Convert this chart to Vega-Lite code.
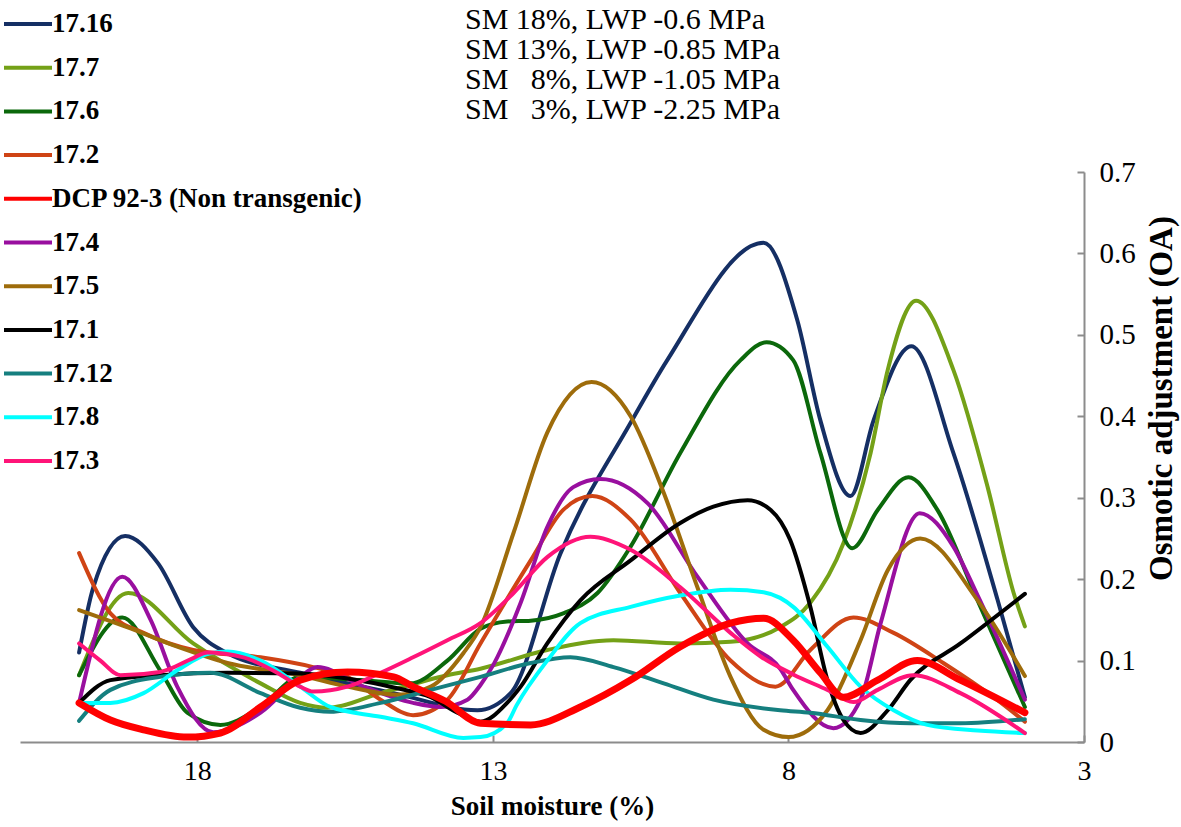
{
  "$schema": "https://vega.github.io/schema/vega-lite/v6.json",
  "width": 1064,
  "height": 570,
  "autosize": {"type": "none"},
  "padding": {"left": 20, "top": 172, "right": 97, "bottom": 85},
  "background": "white",
  "config": {"view": {"stroke": null}, "font": "'Liberation Serif', 'Times New Roman', 'DejaVu Serif', serif"},
  "title": {
    "text": ["SM 18%, LWP -0.6 MPa", "SM 13%, LWP -0.85 MPa", "SM\u00a0\u00a0\u00a08%, LWP -1.05 MPa", "SM\u00a0\u00a0\u00a03%, LWP -2.25 MPa"],
    "anchor": "start", "frame": "group", "align": "left", "dx": 445, "dy": 165,
    "font": "'Liberation Serif', 'Times New Roman', 'DejaVu Serif', serif", "fontSize": 30, "fontWeight": "normal", "lineHeight": 30,
    "color": "black", "offset": 50
  },
  "datasets": {
    "oa": [
      {"g":"17.16","sm":20,"oa":0.110},{"g":"17.16","sm":19.76,"oa":0.19},{"g":"17.16","sm":19.22,"oa":0.253},{"g":"17.16","sm":18.67,"oa":0.22},{"g":"17.16","sm":18.07,"oa":0.141},{"g":"17.16","sm":17.49,"oa":0.109},{"g":"17.16","sm":16.26,"oa":0.085},{"g":"17.16","sm":14.68,"oa":0.06},{"g":"17.16","sm":13.26,"oa":0.039},{"g":"17.16","sm":12.7,"oa":0.06},{"g":"17.16","sm":11.86,"oa":0.231},{"g":"17.16","sm":10.67,"oa":0.392},{"g":"17.16","sm":10.05,"oa":0.469},{"g":"17.16","sm":8.42,"oa":0.613},{"g":"17.16","sm":7.85,"oa":0.518},{"g":"17.16","sm":7.46,"oa":0.395},{"g":"17.16","sm":6.95,"oa":0.302},{"g":"17.16","sm":6.56,"oa":0.395},{"g":"17.16","sm":5.92,"oa":0.486},{"g":"17.16","sm":5.21,"oa":0.355},{"g":"17.16","sm":4.46,"oa":0.174},{"g":"17.16","sm":4,"oa":0.055},

      {"g":"17.7","sm":20,"oa":0.082},{"g":"17.7","sm":19.17,"oa":0.183},{"g":"17.7","sm":18.07,"oa":0.121},{"g":"17.7","sm":16.93,"oa":0.072},{"g":"17.7","sm":16.26,"oa":0.048},{"g":"17.7","sm":15.8,"oa":0.042},{"g":"17.7","sm":14.9,"oa":0.06},{"g":"17.7","sm":13.77,"oa":0.082},{"g":"17.7","sm":13.21,"oa":0.09},{"g":"17.7","sm":12.08,"oa":0.113},{"g":"17.7","sm":10.96,"oa":0.125},{"g":"17.7","sm":9.83,"oa":0.121},{"g":"17.7","sm":8.98,"oa":0.123},{"g":"17.7","sm":8.14,"oa":0.141},{"g":"17.7","sm":7.63,"oa":0.171},{"g":"17.7","sm":7.07,"oa":0.244},{"g":"17.7","sm":6.61,"oa":0.355},{"g":"17.7","sm":6.32,"oa":0.457},{"g":"17.7","sm":5.84,"oa":0.542},{"g":"17.7","sm":5.21,"oa":0.457},{"g":"17.7","sm":4.63,"oa":0.313},{"g":"17.7","sm":4.19,"oa":0.183},{"g":"17.7","sm":4,"oa":0.142},

      {"g":"17.6","sm":20,"oa":0.082},{"g":"17.6","sm":19.27,"oa":0.153},{"g":"17.6","sm":18.63,"oa":0.088},{"g":"17.6","sm":18.17,"oa":0.036},{"g":"17.6","sm":17.61,"oa":0.021},{"g":"17.6","sm":16.93,"oa":0.043},{"g":"17.6","sm":16.26,"oa":0.08},{"g":"17.6","sm":15.24,"oa":0.076},{"g":"17.6","sm":14.4,"oa":0.072},{"g":"17.6","sm":13.77,"oa":0.10},{"g":"17.6","sm":13.21,"oa":0.139},{"g":"17.6","sm":12.76,"oa":0.148},{"g":"17.6","sm":12.36,"oa":0.149},{"g":"17.6","sm":11.81,"oa":0.158},{"g":"17.6","sm":11.23,"oa":0.183},{"g":"17.6","sm":10.67,"oa":0.24},{"g":"17.6","sm":9.83,"oa":0.355},{"g":"17.6","sm":8.81,"oa":0.469},{"g":"17.6","sm":8.37,"oa":0.491},{"g":"17.6","sm":7.92,"oa":0.469},{"g":"17.6","sm":7.46,"oa":0.355},{"g":"17.6","sm":6.92,"oa":0.238},{"g":"17.6","sm":6.49,"oa":0.285},{"g":"17.6","sm":5.97,"oa":0.325},{"g":"17.6","sm":5.48,"oa":0.285},{"g":"17.6","sm":4.8,"oa":0.174},{"g":"17.6","sm":4,"oa":0.043},

      {"g":"17.2","sm":20,"oa":0.232},{"g":"17.2","sm":19.47,"oa":0.158},{"g":"17.2","sm":18.91,"oa":0.134},{"g":"17.2","sm":18.07,"oa":0.113},{"g":"17.2","sm":16.93,"oa":0.104},{"g":"17.2","sm":16.04,"oa":0.092},{"g":"17.2","sm":15.46,"oa":0.08},{"g":"17.2","sm":14.9,"oa":0.052},{"g":"17.2","sm":14.35,"oa":0.033},{"g":"17.2","sm":13.77,"oa":0.052},{"g":"17.2","sm":13.21,"oa":0.121},{"g":"17.2","sm":12.36,"oa":0.223},{"g":"17.2","sm":11.81,"oa":0.285},{"g":"17.2","sm":11.32,"oa":0.302},{"g":"17.2","sm":10.67,"oa":0.273},{"g":"17.2","sm":9.83,"oa":0.183},{"g":"17.2","sm":8.98,"oa":0.10},{"g":"17.2","sm":8.22,"oa":0.068},{"g":"17.2","sm":7.63,"oa":0.113},{"g":"17.2","sm":6.9,"oa":0.153},{"g":"17.2","sm":6.22,"oa":0.134},{"g":"17.2","sm":5.38,"oa":0.097},{"g":"17.2","sm":4.53,"oa":0.055},{"g":"17.2","sm":4,"oa":0.025},

      {"g":"DCP 92-3 (Non transgenic)","sm":20,"oa":0.048},{"g":"DCP 92-3 (Non transgenic)","sm":19.47,"oa":0.027},{"g":"DCP 92-3 (Non transgenic)","sm":18.91,"oa":0.015},{"g":"DCP 92-3 (Non transgenic)","sm":18.17,"oa":0.006},{"g":"DCP 92-3 (Non transgenic)","sm":17.61,"oa":0.011},{"g":"DCP 92-3 (Non transgenic)","sm":16.93,"oa":0.043},{"g":"DCP 92-3 (Non transgenic)","sm":16.26,"oa":0.076},{"g":"DCP 92-3 (Non transgenic)","sm":15.46,"oa":0.086},{"g":"DCP 92-3 (Non transgenic)","sm":14.68,"oa":0.08},{"g":"DCP 92-3 (Non transgenic)","sm":14.35,"oa":0.068},{"g":"DCP 92-3 (Non transgenic)","sm":13.8,"oa":0.05},{"g":"DCP 92-3 (Non transgenic)","sm":13.21,"oa":0.023},{"g":"DCP 92-3 (Non transgenic)","sm":12.36,"oa":0.021},{"g":"DCP 92-3 (Non transgenic)","sm":11.52,"oa":0.043},{"g":"DCP 92-3 (Non transgenic)","sm":10.67,"oa":0.076},{"g":"DCP 92-3 (Non transgenic)","sm":9.83,"oa":0.117},{"g":"DCP 92-3 (Non transgenic)","sm":8.98,"oa":0.146},{"g":"DCP 92-3 (Non transgenic)","sm":8.42,"oa":0.152},{"g":"DCP 92-3 (Non transgenic)","sm":7.92,"oa":0.125},{"g":"DCP 92-3 (Non transgenic)","sm":7.46,"oa":0.085},{"g":"DCP 92-3 (Non transgenic)","sm":7.07,"oa":0.055},{"g":"DCP 92-3 (Non transgenic)","sm":6.49,"oa":0.076},{"g":"DCP 92-3 (Non transgenic)","sm":5.82,"oa":0.10},{"g":"DCP 92-3 (Non transgenic)","sm":5.09,"oa":0.076},{"g":"DCP 92-3 (Non transgenic)","sm":4,"oa":0.036},

      {"g":"17.4","sm":20,"oa":0.048},{"g":"17.4","sm":19.27,"oa":0.203},{"g":"17.4","sm":18.79,"oa":0.15},{"g":"17.4","sm":18.34,"oa":0.068},{"g":"17.4","sm":17.73,"oa":0.012},{"g":"17.4","sm":16.93,"oa":0.036},{"g":"17.4","sm":16.26,"oa":0.08},{"g":"17.4","sm":15.97,"oa":0.092},{"g":"17.4","sm":15.19,"oa":0.068},{"g":"17.4","sm":14.35,"oa":0.048},{"g":"17.4","sm":13.88,"oa":0.043},{"g":"17.4","sm":13.43,"oa":0.052},{"g":"17.4","sm":13.21,"oa":0.07},{"g":"17.4","sm":12.99,"oa":0.095},{"g":"17.4","sm":12.53,"oa":0.171},{"g":"17.4","sm":12.08,"oa":0.264},{"g":"17.4","sm":11.64,"oa":0.313},{"g":"17.4","sm":11.18,"oa":0.323},{"g":"17.4","sm":10.38,"oa":0.293},{"g":"17.4","sm":9.54,"oa":0.203},{"g":"17.4","sm":8.69,"oa":0.121},{"g":"17.4","sm":8.14,"oa":0.09},{"g":"17.4","sm":7.92,"oa":0.064},{"g":"17.4","sm":7.24,"oa":0.017},{"g":"17.4","sm":6.78,"oa":0.052},{"g":"17.4","sm":6.44,"oa":0.146},{"g":"17.4","sm":5.78,"oa":0.281},{"g":"17.4","sm":5.21,"oa":0.24},{"g":"17.4","sm":4.8,"oa":0.18},{"g":"17.4","sm":4,"oa":0.052},

      {"g":"17.5","sm":20,"oa":0.162},{"g":"17.5","sm":19.19,"oa":0.141},{"g":"17.5","sm":18.34,"oa":0.117},{"g":"17.5","sm":17.49,"oa":0.097},{"g":"17.5","sm":16.26,"oa":0.082},{"g":"17.5","sm":15.46,"oa":0.068},{"g":"17.5","sm":14.62,"oa":0.058},{"g":"17.5","sm":14.05,"oa":0.068},{"g":"17.5","sm":13.5,"oa":0.109},{"g":"17.5","sm":13.21,"oa":0.141},{"g":"17.5","sm":12.65,"oa":0.257},{"g":"17.5","sm":12.08,"oa":0.38},{"g":"17.5","sm":11.33,"oa":0.442},{"g":"17.5","sm":10.67,"oa":0.40},{"g":"17.5","sm":10.11,"oa":0.306},{"g":"17.5","sm":9.54,"oa":0.19},{"g":"17.5","sm":8.98,"oa":0.08},{"g":"17.5","sm":8.42,"oa":0.015},{"g":"17.5","sm":8.0,"oa":0.006},{"g":"17.5","sm":7.34,"oa":0.039},{"g":"17.5","sm":6.78,"oa":0.125},{"g":"17.5","sm":6.32,"oa":0.211},{"g":"17.5","sm":5.77,"oa":0.25},{"g":"17.5","sm":4.8,"oa":0.174},{"g":"17.5","sm":4,"oa":0.081},

      {"g":"17.1","sm":20,"oa":0.048},{"g":"17.1","sm":19.47,"oa":0.076},{"g":"17.1","sm":18.63,"oa":0.082},{"g":"17.1","sm":17.49,"oa":0.085},{"g":"17.1","sm":16.26,"oa":0.084},{"g":"17.1","sm":15.46,"oa":0.078},{"g":"17.1","sm":14.62,"oa":0.066},{"g":"17.1","sm":14.05,"oa":0.055},{"g":"17.1","sm":13.6,"oa":0.036},{"g":"17.1","sm":13.21,"oa":0.025},{"g":"17.1","sm":12.76,"oa":0.048},{"g":"17.1","sm":12.53,"oa":0.068},{"g":"17.1","sm":12.08,"oa":0.121},{"g":"17.1","sm":11.52,"oa":0.174},{"g":"17.1","sm":10.67,"oa":0.223},{"g":"17.1","sm":9.83,"oa":0.269},{"g":"17.1","sm":9.27,"oa":0.289},{"g":"17.1","sm":8.69,"oa":0.297},{"g":"17.1","sm":8.3,"oa":0.285},{"g":"17.1","sm":7.97,"oa":0.248},{"g":"17.1","sm":7.63,"oa":0.166},{"g":"17.1","sm":7.34,"oa":0.076},{"g":"17.1","sm":7.07,"oa":0.027},{"g":"17.1","sm":6.78,"oa":0.011},{"g":"17.1","sm":6.32,"oa":0.039},{"g":"17.1","sm":5.94,"oa":0.076},{"g":"17.1","sm":5.09,"oa":0.121},{"g":"17.1","sm":4,"oa":0.182},

      {"g":"17.12","sm":20,"oa":0.026},{"g":"17.12","sm":19.47,"oa":0.064},{"g":"17.12","sm":18.63,"oa":0.08},{"g":"17.12","sm":17.78,"oa":0.085},{"g":"17.12","sm":16.93,"oa":0.06},{"g":"17.12","sm":16.26,"oa":0.042},{"g":"17.12","sm":15.75,"oa":0.037},{"g":"17.12","sm":14.9,"oa":0.048},{"g":"17.12","sm":14.05,"oa":0.064},{"g":"17.12","sm":13.21,"oa":0.08},{"g":"17.12","sm":12.36,"oa":0.097},{"g":"17.12","sm":11.69,"oa":0.104},{"g":"17.12","sm":10.96,"oa":0.092},{"g":"17.12","sm":10.11,"oa":0.072},{"g":"17.12","sm":9.27,"oa":0.052},{"g":"17.12","sm":8.14,"oa":0.039},{"g":"17.12","sm":7.63,"oa":0.036},{"g":"17.12","sm":6.78,"oa":0.027},{"g":"17.12","sm":5.94,"oa":0.023},{"g":"17.12","sm":5.09,"oa":0.023},{"g":"17.12","sm":4,"oa":0.028},

      {"g":"17.8","sm":20,"oa":0.048},{"g":"17.8","sm":19.47,"oa":0.048},{"g":"17.8","sm":18.91,"oa":0.06},{"g":"17.8","sm":18.34,"oa":0.088},{"g":"17.8","sm":17.78,"oa":0.109},{"g":"17.8","sm":17.49,"oa":0.111},{"g":"17.8","sm":16.93,"oa":0.10},{"g":"17.8","sm":16.26,"oa":0.068},{"g":"17.8","sm":15.75,"oa":0.043},{"g":"17.8","sm":14.9,"oa":0.031},{"g":"17.8","sm":14.35,"oa":0.023},{"g":"17.8","sm":13.5,"oa":0.005},{"g":"17.8","sm":13.21,"oa":0.006},{"g":"17.8","sm":12.76,"oa":0.023},{"g":"17.8","sm":12.6,"oa":0.045},{"g":"17.8","sm":12.08,"oa":0.10},{"g":"17.8","sm":11.52,"oa":0.146},{"g":"17.8","sm":10.67,"oa":0.166},{"g":"17.8","sm":9.83,"oa":0.18},{"g":"17.8","sm":8.98,"oa":0.187},{"g":"17.8","sm":8.42,"oa":0.184},{"g":"17.8","sm":8.14,"oa":0.177},{"g":"17.8","sm":7.92,"oa":0.166},{"g":"17.8","sm":7.34,"oa":0.117},{"g":"17.8","sm":6.78,"oa":0.068},{"g":"17.8","sm":6.22,"oa":0.039},{"g":"17.8","sm":5.65,"oa":0.021},{"g":"17.8","sm":4.8,"oa":0.014},{"g":"17.8","sm":4,"oa":0.011},

      {"g":"17.3","sm":20,"oa":0.121},{"g":"17.3","sm":19.64,"oa":0.10},{"g":"17.3","sm":19.3,"oa":0.082},{"g":"17.3","sm":18.63,"oa":0.086},{"g":"17.3","sm":18.07,"oa":0.103},{"g":"17.3","sm":17.83,"oa":0.11},{"g":"17.3","sm":17.22,"oa":0.104},{"g":"17.3","sm":16.65,"oa":0.085},{"g":"17.3","sm":16.26,"oa":0.068},{"g":"17.3","sm":16.04,"oa":0.062},{"g":"17.3","sm":15.46,"oa":0.068},{"g":"17.3","sm":14.9,"oa":0.085},{"g":"17.3","sm":14.35,"oa":0.104},{"g":"17.3","sm":13.77,"oa":0.125},{"g":"17.3","sm":13.21,"oa":0.146},{"g":"17.3","sm":12.65,"oa":0.183},{"g":"17.3","sm":12.08,"oa":0.227},{"g":"17.3","sm":11.35,"oa":0.252},{"g":"17.3","sm":10.67,"oa":0.236},{"g":"17.3","sm":9.83,"oa":0.19},{"g":"17.3","sm":8.98,"oa":0.134},{"g":"17.3","sm":8.47,"oa":0.105},{"g":"17.3","sm":7.92,"oa":0.083},{"g":"17.3","sm":7.34,"oa":0.064},{"g":"17.3","sm":6.9,"oa":0.049},{"g":"17.3","sm":6.49,"oa":0.064},{"g":"17.3","sm":5.89,"oa":0.082},{"g":"17.3","sm":5.09,"oa":0.06},{"g":"17.3","sm":4,"oa":0.011}
    ]
  },
  "data": {"name": "oa"},
  "encoding": {
    "x": {
      "field": "sm", "type": "quantitative",
      "scale": {"domain": [3, 21], "reverse": true, "nice": false, "zero": false},
      "axis": {
        "values": [18, 13, 8, 3], "title": "Soil moisture (%)", "grid": false,
        "labelFont": "'Liberation Serif', 'Times New Roman', 'DejaVu Serif', serif", "labelFontSize": 28, "labelColor": "black",
        "titleFont": "'Liberation Serif', 'Times New Roman', 'DejaVu Serif', serif", "titleFontSize": 27, "titleFontWeight": "bold", "titleColor": "black",
        "domainColor": "#8c8c8c", "domainWidth": 2, "tickColor": "#8c8c8c", "tickWidth": 2, "tickSize": -7,
        "labelPadding": 22, "titlePadding": 8, "labelFlush": false
      }
    },
    "y": {
      "field": "oa", "type": "quantitative",
      "scale": {"domain": [0, 0.7], "nice": false},
      "axis": {
        "orient": "right", "values": [0, 0.1, 0.2, 0.3, 0.4, 0.5, 0.6, 0.7],
        "labelExpr": "datum.value == 0 ? '0' : format(datum.value, '.1f')",
        "title": "Osmotic adjustment (OA)", "grid": false,
        "labelFont": "'Liberation Serif', 'Times New Roman', 'DejaVu Serif', serif", "labelFontSize": 29, "labelColor": "black", "labelAlign": "left", "labelBaseline": "middle",
        "titleFont": "'Liberation Serif', 'Times New Roman', 'DejaVu Serif', serif", "titleFontSize": 33, "titleFontWeight": "bold", "titleColor": "black",
        "titleAngle": 270, "titleX": 77, "titleY": 226, "titleAlign": "center", "titleBaseline": "middle",
        "domainColor": "#8c8c8c", "domainWidth": 2, "tickColor": "#8c8c8c", "tickWidth": 2, "tickSize": -7,
        "labelPadding": 22, "labelFlush": false
      }
    },
    "color": {
      "field": "g", "type": "nominal",
      "scale": {
        "domain": ["17.16", "17.7", "17.6", "17.2", "DCP 92-3 (Non transgenic)", "17.4", "17.5", "17.1", "17.12", "17.8", "17.3"],
        "range": ["#152F64", "#74A117", "#0B680B", "#CF4415", "#FF0000", "#990F9F", "#9E6C0B", "#000000", "#157F7F", "#00FFFF", "#FF1478"]
      },
      "legend": {
        "orient": "none", "legendX": -6, "legendY": -162, "title": null,
        "symbolType": "M-2,0H2", "symbolSize": 576, "symbolStrokeWidth": 4,
        "labelFont": "'Liberation Serif', 'Times New Roman', 'DejaVu Serif', serif", "labelFontWeight": "bold", "labelFontSize": 27, "labelColor": "black",
        "labelOffset": 10, "rowPadding": 16.7, "padding": 0, "labelLimit": 600
      }
    }
  },
  "layer": [
    {
      "transform": [{"filter": "datum.g !== 'DCP 92-3 (Non transgenic)'"}],
      "mark": {"type": "line", "interpolate": "monotone", "strokeWidth": 4, "strokeCap": "round", "strokeJoin": "round"}
    },
    {
      "transform": [{"filter": "datum.g === 'DCP 92-3 (Non transgenic)'"}],
      "mark": {"type": "line", "interpolate": "monotone", "strokeWidth": 7, "strokeCap": "round", "strokeJoin": "round"}
    }
  ]
}
